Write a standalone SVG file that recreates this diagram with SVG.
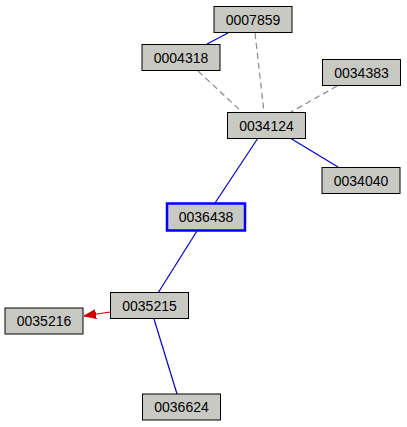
<svg xmlns="http://www.w3.org/2000/svg" width="407" height="427" viewBox="0 0 407 427">
<style>
.n rect{fill:#c8c9c3;stroke:#000;stroke-width:1}
.n text{font-family:"Liberation Sans",Arial,sans-serif;font-size:14px;text-anchor:middle;fill:#000}
.b{stroke:#0000cc;stroke-width:1.2;fill:none}
.d{stroke:#888;stroke-width:1.2;stroke-dasharray:6,4;fill:none}
.r{stroke:#cc0000;stroke-width:1.2;fill:none}
</style>
<defs>
<marker id="ah" viewBox="0 0 12 10" refX="12" refY="5" markerWidth="12" markerHeight="10" markerUnits="userSpaceOnUse" orient="auto">
<path d="M0,0.5 L12,5 L0,9.5 z" fill="#cc0000" stroke="#cc0000" stroke-width="1"/>
</marker>
</defs>
<rect width="407" height="427" fill="#fff"/>
<g id="edges">
<line class="b" x1="228" y1="33" x2="207" y2="44"/>
<line class="d" x1="255" y1="33" x2="264" y2="112"/>
<line class="d" x1="198" y1="71" x2="242" y2="112"/>
<line class="d" x1="337" y1="86" x2="291" y2="112"/>
<line class="b" x1="290" y1="138" x2="338" y2="167"/>
<line class="b" x1="258" y1="138" x2="215" y2="203"/>
<line class="b" x1="197" y1="231" x2="158" y2="293"/>
<line class="r" x1="110" y1="312" x2="84" y2="316" marker-end="url(#ah)"/>
<line class="b" x1="154" y1="319" x2="177" y2="394"/>
</g>
<g id="n0007859" class="n"><rect x="214" y="6.5" width="78" height="26"/><text x="253" y="24.5">0007859</text></g>
<g id="n0004318" class="n"><rect x="142" y="44.5" width="78" height="26"/><text x="181" y="62.5">0004318</text></g>
<g id="n0034383" class="n"><rect x="322.5" y="59.5" width="78" height="26"/><text x="361.5" y="77.5">0034383</text></g>
<g id="n0034124" class="n"><rect x="227.5" y="112.5" width="78" height="26"/><text x="266.5" y="130.5">0034124</text></g>
<g id="n0034040" class="n"><rect x="322" y="167.5" width="78" height="26"/><text x="361" y="185.5">0034040</text></g>
<g id="n0036438" class="n"><rect x="167" y="203.5" width="78" height="27" style="stroke:#0000ff;stroke-width:2.5"/><text x="206" y="222">0036438</text></g>
<g id="n0035215" class="n"><rect x="110.5" y="292.5" width="78" height="26"/><text x="149.5" y="310.5">0035215</text></g>
<g id="n0035216" class="n"><rect x="5" y="308" width="78" height="26"/><text x="44" y="326">0035216</text></g>
<g id="n0036624" class="n"><rect x="142.5" y="394" width="78" height="26"/><text x="181.5" y="412">0036624</text></g>
</svg>
